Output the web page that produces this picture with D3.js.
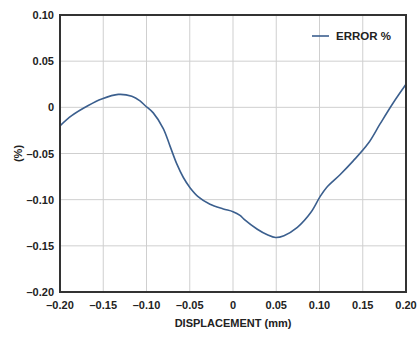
<!DOCTYPE html>
<html lang="en">
<head>
<meta charset="UTF-8">
<title>Error % vs Displacement</title>
<style>
  body { margin: 0; background: #fff; }
  svg { display: block; font-family: "Liberation Sans", Arial, sans-serif; }
  .tick-label { font-size: 11px; font-weight: bold; fill: #222; }
</style>
</head>
<body>
<svg id="chart" width="420" height="340"></svg>
<script src="https://d3js.org/d3.v7.min.js"></script>
<script>
// values
const displacement = [-0.200, -0.1865, -0.1673, -0.1518, -0.1326, -0.117, -0.1075, -0.1017, -0.0922,
  -0.0806, -0.0728, -0.0651, -0.0574, -0.0497, -0.040, -0.0266, -0.0112, 0, 0.0081, 0.0126,
  0.0281, 0.0397, 0.0493, 0.0589, 0.0744, 0.0899, 0.1005, 0.108, 0.1237, 0.139, 0.1564,
  0.170, 0.1853, 0.200];
const errorPct = [-0.020, -0.009, 0.002, 0.009, 0.014, 0.012, 0.007, 0.002, -0.006,
  -0.023, -0.042, -0.061, -0.076, -0.087, -0.097, -0.105, -0.110, -0.113, -0.117, -0.121,
  -0.132, -0.138, -0.141, -0.139, -0.130, -0.114, -0.097, -0.087, -0.073, -0.058, -0.039,
  -0.018, 0.005, 0.025];
const xTicks = [-0.20, -0.15, -0.10, -0.05, 0, 0.05, 0.10, 0.15, 0.20];
const yTicks = [0.10, 0.05, 0, -0.05, -0.10, -0.15, -0.20];

const svg = d3.select("#chart");
const m = { left: 60, right: 406, top: 15, bottom: 292 };

const x = d3.scaleLinear().domain([-0.2, 0.2]).range([m.left, m.right]);
const y = d3.scaleLinear().domain([-0.2, 0.1]).range([m.bottom, m.top]);

const fmt = v => v === 0 ? "0" : d3.format(".2f")(v).replace("-", "\u2013").replace("\u2212", "\u2013");

// grid
svg.append("g").selectAll("line").data(xTicks).join("line")
    .attr("x1", d => x(d)).attr("x2", d => x(d))
    .attr("y1", m.top).attr("y2", m.bottom)
    .attr("stroke", "#cfcfcf").attr("stroke-width", 1);
svg.append("g").selectAll("line").data(yTicks).join("line")
    .attr("x1", m.left).attr("x2", m.right)
    .attr("y1", d => y(d)).attr("y2", d => y(d))
    .attr("stroke", "#cfcfcf").attr("stroke-width", 1);

// curve
const pts = displacement.map((d, i) => [d, errorPct[i]]);
svg.append("path")
    .datum(pts)
    .attr("fill", "none")
    .attr("stroke", "#3b5f8e")
    .attr("stroke-width", 1.6)
    .attr("d", d3.line().x(d => x(d[0])).y(d => y(d[1])).curve(d3.curveCatmullRom.alpha(0.5)));

// frame
svg.append("rect")
    .attr("x", m.left).attr("y", m.top)
    .attr("width", m.right - m.left).attr("height", m.bottom - m.top)
    .attr("fill", "none").attr("stroke", "#333").attr("stroke-width", 2);

// tick labels
svg.append("g").selectAll("text").data(yTicks).join("text")
    .attr("class", "tick-label")
    .attr("x", m.left - 6).attr("y", d => y(d) + 4)
    .attr("text-anchor", "end")
    .text(fmt);
svg.append("g").selectAll("text").data(xTicks).join("text")
    .attr("class", "tick-label")
    .attr("x", d => x(d)).attr("y", m.bottom + 17)
    .attr("text-anchor", "middle")
    .text(fmt);

// axis titles
svg.append("text")
    .attr("class", "tick-label")
    .attr("x", (m.left + m.right) / 2).attr("y", 327)
    .attr("text-anchor", "middle")
    .text("DISPLACEMENT (mm)");
svg.append("text")
    .attr("class", "tick-label")
    .attr("transform", `translate(22,${(m.top + m.bottom) / 2}) rotate(-90)`)
    .attr("text-anchor", "middle")
    .text("(%)");

// legend
svg.append("line")
    .attr("x1", 312).attr("x2", 329).attr("y1", 36).attr("y2", 36)
    .attr("stroke", "#3b5f8e").attr("stroke-width", 1.6);
svg.append("text")
    .attr("class", "tick-label")
    .style("font-size", "11.5px")
    .attr("x", 336).attr("y", 40)
    .text("ERROR %");
</script>
</body>
</html>
